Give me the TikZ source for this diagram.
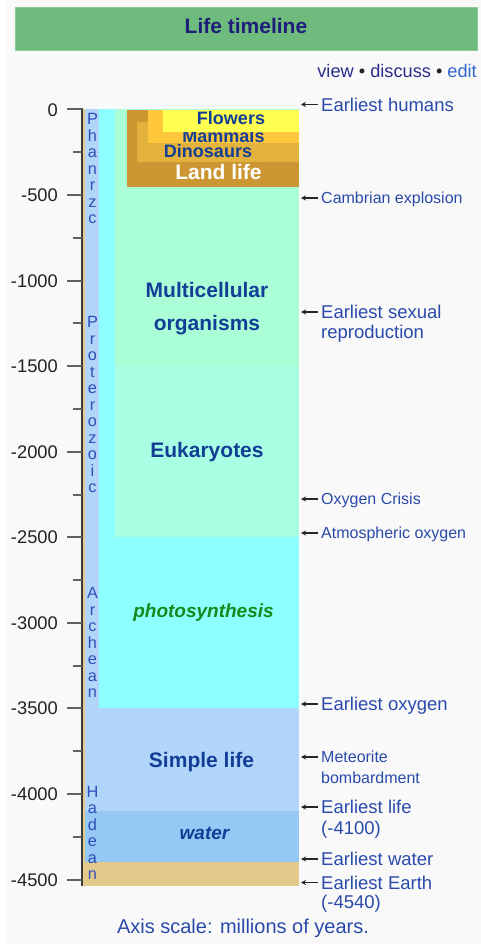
\documentclass[tikz,border=0pt]{standalone}
\usepackage{fontspec}
\setmainfont{Liberation Sans}
\usetikzlibrary{arrows.meta}
\definecolor{panel}{HTML}{F9F9F9}
\definecolor{hdr}{HTML}{6FBB7D}
\definecolor{hdrborder}{HTML}{8CC998}
\definecolor{titleblue}{HTML}{1E1E7A}
\definecolor{navlink}{HTML}{2B2B8C}
\definecolor{editlink}{HTML}{3366CC}
\definecolor{linkblue}{HTML}{2A4AAA}
\definecolor{darkblue}{HTML}{133E96}
\definecolor{eonblue}{HTML}{2C4FB8}
\definecolor{tan}{HTML}{E4C98C}
\definecolor{simple}{HTML}{B2D6FA}
\definecolor{waterc}{HTML}{96C8F5}
\definecolor{cyanc}{HTML}{8EFFFF}
\definecolor{euk}{HTML}{A8FFE4}
\definecolor{multi}{HTML}{AAFFD7}
\definecolor{landc}{HTML}{CC9632}
\definecolor{dinoc}{HTML}{E2B23C}
\definecolor{mammc}{HTML}{FFC83C}
\definecolor{flowc}{HTML}{FFFF50}
\definecolor{greentext}{HTML}{158A1E}
\definecolor{axisgray}{HTML}{3A3A3A}
\definecolor{numgray}{HTML}{222222}
\tikzset{
  lbl/.style={anchor=west, inner sep=0pt, text height=13.3pt, text depth=0pt, text=linkblue, font=\fontsize{18.5}{20}\selectfont},
  slbl/.style={anchor=west, inner sep=0pt, text height=11.5pt, text depth=0pt, text=linkblue, font=\fontsize{16}{18}\selectfont},
  bigl/.style={inner sep=0pt, text height=15.1pt, text depth=0pt, text=darkblue, font=\bfseries\fontsize{21}{24}\selectfont},
  midl/.style={inner sep=0pt, text height=13pt, text depth=0pt, text=darkblue, font=\bfseries\fontsize{18}{20}\selectfont},
  itl/.style={inner sep=0pt, text height=13.6pt, text depth=0pt, font=\bfseries\itshape\fontsize{19}{21}\selectfont},
  eonl/.style={inner sep=0pt, text height=11.7pt, text depth=0pt, text=eonblue, font=\fontsize{16.3}{18}\selectfont},
  axl/.style={anchor=east, inner sep=0pt, text height=13.1pt, text depth=0pt, text=numgray, font=\fontsize{18.3}{20}\selectfont},
  arr/.style={-{Stealth[length=5pt,width=5pt]}, line width=1.3pt, draw=black!85, shorten <=3pt},
  tickl/.style={line width=2pt, draw=axisgray!80},
}
\begin{document}
\begin{tikzpicture}[x=1pt,y=-1pt]
\useasboundingbox (0,0) rectangle (481,944);
\fill[white] (0,0) rectangle (481,944);
\fill[panel] (6,0) rectangle (481,944);
% header
\node[draw=hdrborder, fill=hdr, line width=0.8pt, minimum width=462pt, minimum height=43pt, inner sep=0pt, anchor=north west] (hdr) at (15,7) {};
\node[inner sep=0pt, text height=15.1pt, text depth=0pt, text=titleblue, font=\bfseries\fontsize{21}{24}\selectfont] (title) at (246,26) {Life timeline};
\node[anchor=east, inner sep=0pt, text height=13pt, text depth=0pt, font=\fontsize{18.2}{20}\selectfont] (vde) at (477,71) {\textcolor{navlink}{view} \textcolor{numgray}{•} \textcolor{navlink}{discuss} \textcolor{numgray}{•} \textcolor{editlink}{edit}};
% bars
\fill[tan] (83,109.5) rectangle (299,886.3);
\fill[simple] (85,109.5) rectangle (99,811.1);
\fill[simple] (85,708.4) rectangle (299,811.1);
\fill[waterc] (85,811.1) rectangle (299,862.4);
\fill[cyanc] (99,109.5) rectangle (299,708.4);
\fill[euk] (115,109.5) rectangle (299,537.3);
\fill[multi] (115,109.5) rectangle (299,366.2);
\fill[landc] (127,110) rectangle (299,186.5);
\fill[dinoc] (137,122) rectangle (299,162);
\fill[mammc] (148,110) rectangle (299,143);
\node[midl] (mamm) at (223.5,136) {Mammals};
\fill[flowc] (163,110) rectangle (299,132);
\node[midl] (flow) at (231,118) {Flowers};
\node[midl] (dino) at (208,151) {Dinosaurs};
\node[bigl, text=white] (land) at (218.5,171.5) {Land life};
\node[bigl] (multi1) at (207,290) {Multicellular};
\node[bigl] (multi2) at (207,323) {organisms};
\node[bigl] (euka) at (207,450) {Eukaryotes};
\node[itl, text=greentext] (photo) at (203.5,611) {photosynthesis};
\node[bigl] (simp) at (201.5,760) {Simple life};
\node[itl, text=darkblue] (wat) at (204.5,833) {water};
% eon letters
\foreach \c [count=\i from 0] in {P,h,a,n,r,z,c}
  \node[eonl] (pha\i) at (92.5,{119+16.5*\i}) {\c};
\foreach \c [count=\i from 0] in {P,r,o,t,e,r,o,z,o,i,c}
  \node[eonl] (pro\i) at (92.5,{322+16.5*\i}) {\c};
\foreach \c [count=\i from 0] in {A,r,c,h,e,a,n}
  \node[eonl] (arc\i) at (92.5,{593+16.5*\i}) {\c};
\foreach \c [count=\i from 0] in {H,a,d,e,a,n}
  \node[eonl] (had\i) at (92.5,{791.5+16.5*\i}) {\c};
% axis
\coordinate (axtop) at (82,108.5);
\coordinate (axbot) at (82,886.3);
\draw[line width=2pt, draw=axisgray] (axtop) -- (axbot);
\foreach \v [count=\k from 0] in {0,-500,...,-4500} {
  \draw[tickl] (67,{109.5+85.556*\k}) -- (82,{109.5+85.556*\k});
  \node[axl] (ax\k) at (58,{109.5+85.556*\k}) {\v};
}
\foreach \k in {0,...,8}
  \draw[tickl] (73,{152.3+85.556*\k}) -- (82,{152.3+85.556*\k});
% right labels
\node[lbl] (hum) at (321,104.5) {Earliest humans};
\coordinate (thum) at (301,104.5);
\draw[arr] (hum.west) -- (thum);
\node[slbl] (camb) at (321,198) {Cambrian explosion};
\coordinate (tcamb) at (301,198);
\draw[arr] (camb.west) -- (tcamb);
\node[lbl] (sex1) at (321,312) {Earliest sexual};
\node[lbl] (sex2) at (321,332) {reproduction};
\coordinate (tsex) at (301,312);
\draw[arr] (sex1.west) -- (tsex);
\node[slbl] (oxc) at (321,499) {Oxygen Crisis};
\coordinate (toxc) at (301,499);
\draw[arr] (oxc.west) -- (toxc);
\node[slbl] (atm) at (321,533) {Atmospheric oxygen};
\coordinate (tatm) at (301,533);
\draw[arr] (atm.west) -- (tatm);
\node[lbl] (eox) at (321,704) {Earliest oxygen};
\coordinate (teox) at (301,704);
\draw[arr] (eox.west) -- (teox);
\node[slbl] (met1) at (321,757) {Meteorite};
\node[slbl] (met2) at (321,778) {bombardment};
\coordinate (tmet) at (301,757);
\draw[arr] (met1.west) -- (tmet);
\node[lbl] (life1) at (321,807) {Earliest life};
\node[lbl] (life2) at (321,828) {(-4100)};
\coordinate (tlife) at (301,807);
\draw[arr] (life1.west) -- (tlife);
\node[lbl] (wat1) at (321,859) {Earliest water};
\coordinate (twat) at (301,859);
\draw[arr] (wat1.west) -- (twat);
\node[lbl] (earth1) at (321,882.5) {Earliest Earth};
\node[lbl] (earth2) at (321,901.5) {(-4540)};
\coordinate (tearth) at (301,882.5);
\draw[arr] (earth1.west) -- (tearth);
% caption
\node[inner sep=0pt, text height=14.4pt, text depth=0pt, text=linkblue, font=\fontsize{20}{22}\selectfont] (cap) at (243,926) {Axis scale: millions of years.};
\end{tikzpicture}
\end{document}
